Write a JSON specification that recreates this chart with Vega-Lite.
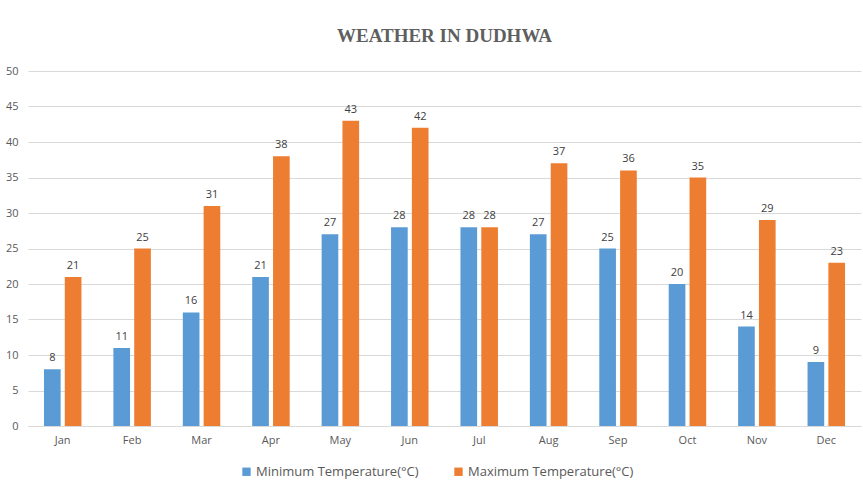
{
  "$schema": "https://vega.github.io/schema/vega-lite/v6.json",
  "autosize": {"type": "none"},
  "width": 833,
  "height": 355,
  "padding": {"left": 28, "top": 71, "right": 2, "bottom": 68},
  "background": "#ffffff",
  "title": {
    "text": "WEATHER IN DUDHWA",
    "font": "Liberation Serif",
    "fontSize": 19,
    "fontWeight": "bold",
    "color": "#5f5f5f",
    "anchor": "middle",
    "offset": 19
  },
  "data": {
    "values": [
      {"month": "Jan", "series": "Minimum Temperature(°C)", "temp": 8},
      {"month": "Feb", "series": "Minimum Temperature(°C)", "temp": 11},
      {"month": "Mar", "series": "Minimum Temperature(°C)", "temp": 16},
      {"month": "Apr", "series": "Minimum Temperature(°C)", "temp": 21},
      {"month": "May", "series": "Minimum Temperature(°C)", "temp": 27},
      {"month": "Jun", "series": "Minimum Temperature(°C)", "temp": 28},
      {"month": "Jul", "series": "Minimum Temperature(°C)", "temp": 28},
      {"month": "Aug", "series": "Minimum Temperature(°C)", "temp": 27},
      {"month": "Sep", "series": "Minimum Temperature(°C)", "temp": 25},
      {"month": "Oct", "series": "Minimum Temperature(°C)", "temp": 20},
      {"month": "Nov", "series": "Minimum Temperature(°C)", "temp": 14},
      {"month": "Dec", "series": "Minimum Temperature(°C)", "temp": 9},
      {"month": "Jan", "series": "Maximum Temperature(°C)", "temp": 21},
      {"month": "Feb", "series": "Maximum Temperature(°C)", "temp": 25},
      {"month": "Mar", "series": "Maximum Temperature(°C)", "temp": 31},
      {"month": "Apr", "series": "Maximum Temperature(°C)", "temp": 38},
      {"month": "May", "series": "Maximum Temperature(°C)", "temp": 43},
      {"month": "Jun", "series": "Maximum Temperature(°C)", "temp": 42},
      {"month": "Jul", "series": "Maximum Temperature(°C)", "temp": 28},
      {"month": "Aug", "series": "Maximum Temperature(°C)", "temp": 37},
      {"month": "Sep", "series": "Maximum Temperature(°C)", "temp": 36},
      {"month": "Oct", "series": "Maximum Temperature(°C)", "temp": 35},
      {"month": "Nov", "series": "Maximum Temperature(°C)", "temp": 29},
      {"month": "Dec", "series": "Maximum Temperature(°C)", "temp": 23}
    ]
  },
  "encoding": {
    "x": {
      "field": "month",
      "type": "nominal",
      "sort": ["Jan","Feb","Mar","Apr","May","Jun","Jul","Aug","Sep","Oct","Nov","Dec"],
      "scale": {"paddingInner": 0.46, "paddingOuter": 0.23},
      "axis": {
        "title": null,
        "labelAngle": 0,
        "labelFont": "Open Sans",
        "labelFontSize": 11,
        "labelColor": "#595959",
        "labelPadding": 8,
        "ticks": false,
        "domainColor": "#d9d9d9",
        "domainWidth": 1
      }
    },
    "xOffset": {
      "field": "series",
      "type": "nominal",
      "sort": ["Minimum Temperature(°C)", "Maximum Temperature(°C)"],
      "scale": {"paddingInner": 0.2, "paddingOuter": 0}
    },
    "y": {
      "field": "temp",
      "type": "quantitative",
      "scale": {"domain": [0, 50]},
      "axis": {
        "title": null,
        "values": [0,5,10,15,20,25,30,35,40,45,50],
        "labelFont": "Open Sans",
        "labelFontSize": 11,
        "labelColor": "#595959",
        "labelPadding": 10,
        "ticks": false,
        "domain": false,
        "gridColor": "#d9d9d9",
        "gridWidth": 1
      }
    }
  },
  "layer": [
    {
      "mark": {"type": "bar"},
      "encoding": {
        "color": {
          "field": "series",
          "type": "nominal",
          "sort": ["Minimum Temperature(°C)", "Maximum Temperature(°C)"],
          "scale": {"range": ["#5b9bd5", "#ed7d31"]},
          "legend": {
            "title": null,
            "orient": "none",
            "direction": "horizontal",
            "legendX": 212,
            "legendY": 394,
            "symbolType": "square",
            "symbolSize": 70,
            "symbolStrokeWidth": 0,
            "labelFont": "Open Sans",
            "labelFontSize": 13,
            "labelColor": "#595959",
            "labelOffset": 3,
            "labelLimit": 0,
            "columnPadding": 33
          }
        }
      }
    },
    {
      "mark": {"type": "text", "baseline": "bottom", "dy": -6, "font": "Open Sans", "fontSize": 11, "color": "#404040"},
      "encoding": {
        "text": {"field": "temp", "type": "quantitative"}
      }
    }
  ],
  "config": {
    "view": {"stroke": null}
  }
}
